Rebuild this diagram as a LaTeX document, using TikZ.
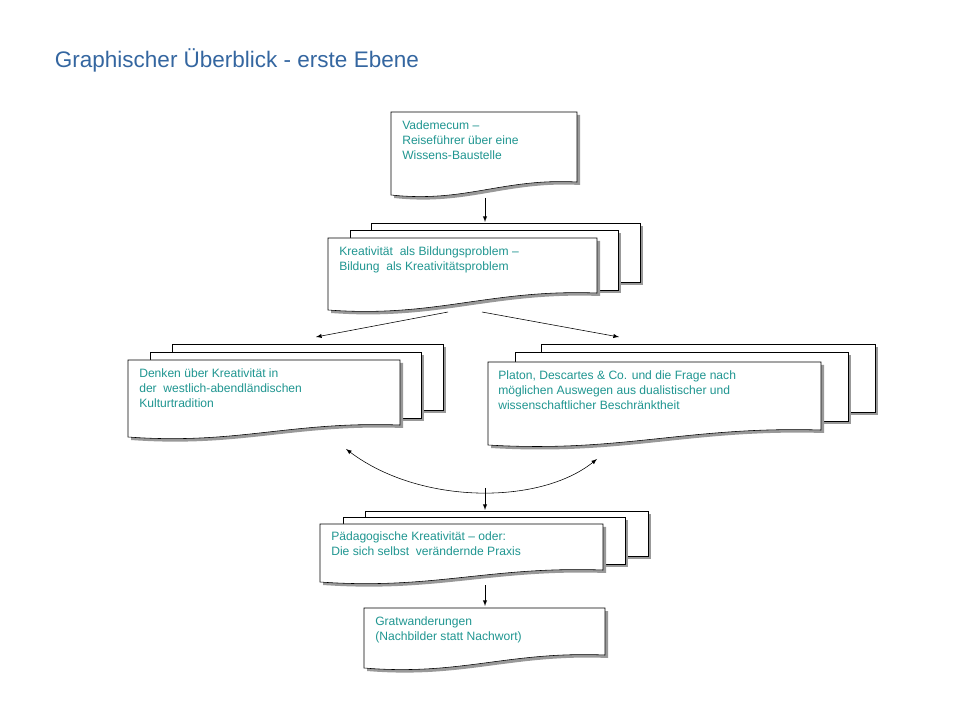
\documentclass[tikz,border=0pt]{standalone}
\usepackage{fontspec}
\setmainfont{Liberation Sans}
\usetikzlibrary{calc}
\definecolor{titleblue}{RGB}{52,102,160}
\definecolor{docteal}{RGB}{32,150,145}

\begin{document}
\begin{tikzpicture}[x=0.025cm, y=-0.025cm, >=latex]

% Page with wavy bottom edge, shadow below right
\newcommand{\docpage}[5]{
  \fill[black!40] (#1+3,#2+3) -- (#3+3,#2+3) -- (#3+3,#5+3)
    .. controls +({-(#3-#1)*0.4},-4) and +({(#3-#1)*0.4},8) .. (#1+3,#4+3) -- cycle;
  \draw[fill=white] (#1,#2) -- (#3,#2) -- (#3,#5)
    .. controls +({-(#3-#1)*0.4},-4) and +({(#3-#1)*0.4},8) .. (#1,#4) -- cycle;
}
% Plain sheet behind a page
\newcommand{\backpage}[4]{
  \fill[black!40] (#1+3,#2+3) rectangle (#3+3,#4+3);
  \draw[fill=white] (#1,#2) rectangle (#3,#4);
}

\tikzset{
  doctext/.style={anchor=north west, align=left, text=docteal,
    font=\fontsize{8.6}{10.8}\selectfont, inner sep=0pt},
  flow/.style={->, thin}
}

\useasboundingbox (0,0) rectangle (960,720);

\node[anchor=west, text=titleblue, font=\fontsize{16}{18}\selectfont] (title) at (50,60)
  {Graphischer Überblick - erste Ebene};

% Vademecum
\docpage{391}{112}{577}{195}{182}
\node[doctext] (vade) at (402,120) {Vademecum –\\Reiseführer über eine\\Wissens-Baustelle};

% Kreativitaet
\backpage{371}{223}{640}{282}
\backpage{350}{230}{618}{290}
\docpage{328}{238}{597}{310}{293}
\node[doctext] (kreat) at (339,246) {Kreativität\ \ als Bildungsproblem –\\Bildung\ \ als Kreativitätsproblem};

% Denken
\backpage{172}{344}{443}{410}
\backpage{150}{352}{421}{418}
\docpage{128}{360}{400}{437}{425}
\node[doctext] (denken) at (139,368) {Denken über Kreativität in\\der\ \ westlich-abendländischen\\Kulturtradition};

% Platon
\backpage{541}{344}{875}{412}
\backpage{515}{352}{848}{421}
\docpage{488}{362}{821}{445}{430}
\node[doctext] (platon) at (498,370) {Platon, Descartes \& Co. und die Frage nach\\möglichen Auswegen aus dualistischer und\\wissenschaftlicher Beschränktheit};

% Paedagogische Kreativitaet
\backpage{365}{511}{648}{556}
\backpage{343}{517}{625}{564}
\docpage{320}{524}{603}{582}{570}
\node[doctext] (paed) at (331,531) {Pädagogische Kreativität – oder:\\Die sich selbst\ \ verändernde Praxis};

% Gratwanderungen
\docpage{364}{608}{605}{668}{655}
\node[doctext] (grat) at (375,616) {Gratwanderungen\\(Nachbilder statt Nachwort)};

% Connectors
\coordinate (v1) at (485,198);  \coordinate (k0) at (485,222);
\coordinate (k1) at (448,312);  \coordinate (d0) at (316,337);
\coordinate (k2) at (482,312);  \coordinate (p0) at (619,337);
\coordinate (d1) at (346,449);  \coordinate (p1) at (597,459);
\coordinate (m)  at (485,488);  \coordinate (e0) at (485,510);
\coordinate (e1) at (485,585);  \coordinate (g0) at (485,606);

\draw[flow] (v1) -- (k0);
\draw[flow] (k1) -- (d0);
\draw[flow] (k2) -- (p0);
\draw[<->] (d1) .. controls (420,505) and (540,505) .. (p1);
\draw[flow] (m) -- (e0);
\draw[flow] (e1) -- (g0);

\end{tikzpicture}
\end{document}
